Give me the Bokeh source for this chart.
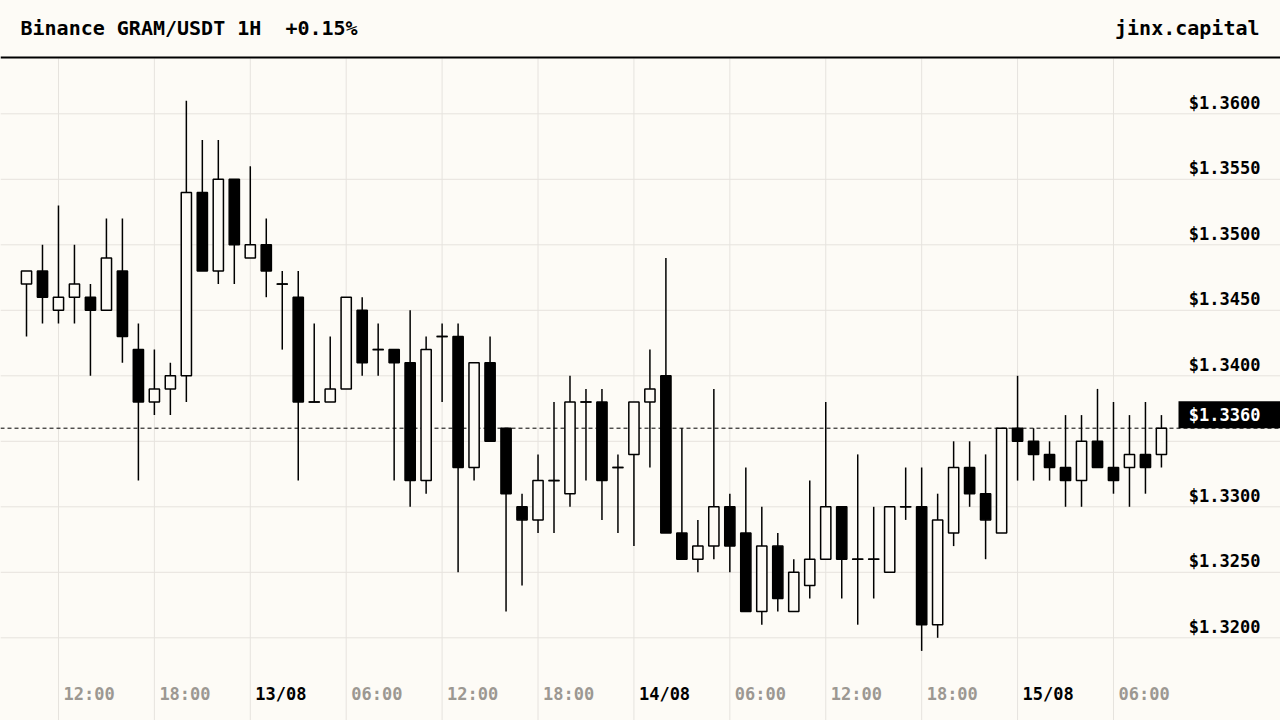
from bokeh.plotting import figure
from bokeh.models import Range1d, GlobalInlineStyleSheet
from bokeh.core.properties import value
from bokeh.embed import file_html
from bokeh.resources import INLINE

# ---------------- data ----------------
opens = [1.347, 1.348, 1.345, 1.346, 1.346, 1.345, 1.348, 1.342, 1.338, 1.339,
         1.340, 1.354, 1.348, 1.355, 1.349, 1.350, 1.347, 1.346, 1.338, 1.338,
         1.339, 1.345, 1.342, 1.342, 1.341, 1.332, 1.343, 1.343, 1.333, 1.341,
         1.336, 1.330, 1.329, 1.332, 1.331, 1.338, 1.338, 1.333, 1.334, 1.338,
         1.340, 1.328, 1.326, 1.327, 1.330, 1.328, 1.322, 1.327, 1.322, 1.324,
         1.326, 1.330, 1.326, 1.326, 1.325, 1.330, 1.330, 1.321, 1.328, 1.333,
         1.331, 1.328, 1.336, 1.335, 1.334, 1.333, 1.332, 1.335, 1.333, 1.333,
         1.334, 1.334]
highs = [1.348, 1.350, 1.353, 1.350, 1.347, 1.352, 1.352, 1.344, 1.342, 1.341,
         1.361, 1.358, 1.358, 1.355, 1.356, 1.352, 1.348, 1.348, 1.344, 1.343,
         1.346, 1.346, 1.344, 1.342, 1.345, 1.343, 1.344, 1.344, 1.341, 1.343,
         1.336, 1.331, 1.334, 1.338, 1.340, 1.339, 1.339, 1.334, 1.338, 1.342,
         1.349, 1.336, 1.329, 1.339, 1.331, 1.333, 1.330, 1.328, 1.326, 1.332,
         1.338, 1.330, 1.334, 1.330, 1.330, 1.333, 1.333, 1.331, 1.335, 1.335,
         1.334, 1.336, 1.340, 1.336, 1.335, 1.337, 1.337, 1.339, 1.338, 1.337,
         1.338, 1.337]
lows = [1.343, 1.344, 1.344, 1.344, 1.340, 1.345, 1.341, 1.332, 1.337, 1.337,
        1.338, 1.348, 1.347, 1.347, 1.349, 1.346, 1.342, 1.332, 1.338, 1.338,
        1.339, 1.340, 1.340, 1.332, 1.330, 1.331, 1.338, 1.325, 1.332, 1.335,
        1.322, 1.324, 1.328, 1.328, 1.330, 1.332, 1.329, 1.328, 1.327, 1.333,
        1.328, 1.326, 1.325, 1.326, 1.325, 1.322, 1.321, 1.322, 1.322, 1.323,
        1.326, 1.323, 1.321, 1.323, 1.325, 1.329, 1.319, 1.320, 1.327, 1.330,
        1.326, 1.328, 1.332, 1.332, 1.332, 1.330, 1.330, 1.333, 1.331, 1.330,
        1.331, 1.333]
closes = [1.348, 1.346, 1.346, 1.347, 1.345, 1.349, 1.343, 1.338, 1.339, 1.340,
          1.354, 1.348, 1.355, 1.350, 1.350, 1.348, 1.347, 1.338, 1.338, 1.339,
          1.346, 1.341, 1.342, 1.341, 1.332, 1.342, 1.343, 1.333, 1.341, 1.335,
          1.331, 1.329, 1.332, 1.332, 1.338, 1.338, 1.332, 1.333, 1.338, 1.339,
          1.328, 1.326, 1.327, 1.330, 1.327, 1.322, 1.327, 1.323, 1.325, 1.326,
          1.330, 1.326, 1.326, 1.326, 1.330, 1.330, 1.321, 1.329, 1.333, 1.331,
          1.329, 1.336, 1.335, 1.334, 1.333, 1.332, 1.335, 1.333, 1.332, 1.334,
          1.333, 1.336]

time_tick_index = [2, 8, 14, 20, 26, 32, 38, 44, 50, 56, 62, 68]
time_tick_labels = ["12:00", "18:00", "13/08", "06:00", "12:00", "18:00",
                    "14/08", "06:00", "12:00", "18:00", "15/08", "06:00"]
price_ticks = [1.3600, 1.3550, 1.3500, 1.3450, 1.3400, 1.3350, 1.3300, 1.3250, 1.3200]
price_tick_labels = ["$1.3600", "$1.3550", "$1.3500", "$1.3450", "$1.3400",
                     "$1.3350", "$1.3300", "$1.3250", "$1.3200"]
title_text = "Binance GRAM/USDT 1H\u00a0 +0.15%"
brand_text = "jinx.capital"

# ---------------- style / layout ----------------
W, H = 1280, 720
BG = "#fdfbf6"
GRID = "#e6e3de"
MUTED = "#9c9892"
FONT = value("DejaVu Sans Mono")

PX_PER_BAR = 15.985          # horizontal pixels per candle
PX_PER_PRICE = 13100.0       # vertical pixels per 1.0 of price
X0 = -26.0 / PX_PER_BAR
X1 = X0 + W / PX_PER_BAR
Y_TOP = 1.36 + 113.3 / PX_PER_PRICE
Y_BOT = Y_TOP - H / PX_PER_PRICE


def px_x(px):
    return X0 + px / PX_PER_BAR


def px_y(py):
    return Y_TOP - py / PX_PER_PRICE


p = figure(width=W, height=H, x_range=Range1d(X0, X1), y_range=Range1d(Y_BOT, Y_TOP),
           x_axis_type=None, y_axis_type=None, toolbar_location=None,
           output_backend="svg", min_border=0,
           background_fill_color=BG, border_fill_color=BG)
p.outline_line_color = None
p.stylesheets = [GlobalInlineStyleSheet(
    css="html, body { margin: 0 !important; padding: 0; background: #fdfbf6; overflow: hidden; }")]

n = len(opens)
idx = list(range(n))
last = closes[-1]

# grid lines
p.segment(x0=time_tick_index, x1=time_tick_index,
          y0=[px_y(58)] * len(time_tick_index), y1=[Y_BOT] * len(time_tick_index),
          line_color=GRID, line_width=1)
p.segment(x0=[X0] * len(price_ticks), x1=[X1] * len(price_ticks),
          y0=price_ticks, y1=price_ticks, line_color=GRID, line_width=1)

# header rule
p.segment(x0=[X0], x1=[X1], y0=[px_y(57)], y1=[px_y(57)], line_color="black", line_width=2)

# last price dashed line
p.segment(x0=[X0], x1=[X1], y0=[last], y1=[last], line_color="black",
          line_width=1, line_dash="4 3")

# candles
p.segment(x0=idx, x1=idx, y0=lows, y1=highs, line_color="black", line_width=1.5)
tops = [max(o, c) for o, c in zip(opens, closes)]
bots = [min(o, c) for o, c in zip(opens, closes)]
fills = ["black" if c < o else BG for o, c in zip(opens, closes)]
p.vbar(x=idx, width=0.64, top=tops, bottom=bots, fill_color=fills,
       line_color="black", line_width=1.5)
doji = [i for i in idx if opens[i] == closes[i]]
p.segment(x0=[i - 0.36 for i in doji], x1=[i + 0.36 for i in doji],
          y0=[closes[i] for i in doji], y1=[closes[i] for i in doji],
          line_color="black", line_width=1.5)

# price labels (the one colliding with the last-price tag is hidden)
shown = [k for k, t in enumerate(price_ticks) if abs(t - last) > 0.0015]
p.text(x=[px_x(1260)] * len(shown), y=[price_ticks[k] for k in shown],
       text=[price_tick_labels[k] for k in shown],
       text_align="right", text_baseline="alphabetic", y_offset=-11,
       text_font=FONT, text_font_style="bold", text_font_size="17px", text_color="black")

# time labels
colors = ["black" if "/" in t else MUTED for t in time_tick_labels]
p.text(x=time_tick_index, y=[px_y(693)] * len(time_tick_index), text=time_tick_labels,
       text_align="left", text_baseline="alphabetic", x_offset=5,
       text_font=FONT, text_font_style="bold", text_font_size="17px", text_color=colors)

# last price tag
p.quad(left=[px_x(1178)], right=[X1], bottom=[last], top=[last + 27 / PX_PER_PRICE],
       fill_color="black", line_color=None)
p.text(x=[px_x(1260)], y=[last], text=["$%.4f" % last],
       text_align="right", text_baseline="alphabetic", y_offset=-13,
       text_font=FONT, text_font_style="bold", text_font_size="17px", text_color="white")

# header texts
p.text(x=[px_x(20)], y=[px_y(27)], text=[title_text], text_align="left",
       text_baseline="alphabetic", text_font=FONT, text_font_style="bold",
       text_font_size="20px", text_color="black")
p.text(x=[px_x(1259)], y=[px_y(27)], text=[brand_text], text_align="right",
       text_baseline="alphabetic", text_font=FONT, text_font_style="bold",
       text_font_size="20px", text_color="black")

open("out.html", "w").write(file_html(p, INLINE))
